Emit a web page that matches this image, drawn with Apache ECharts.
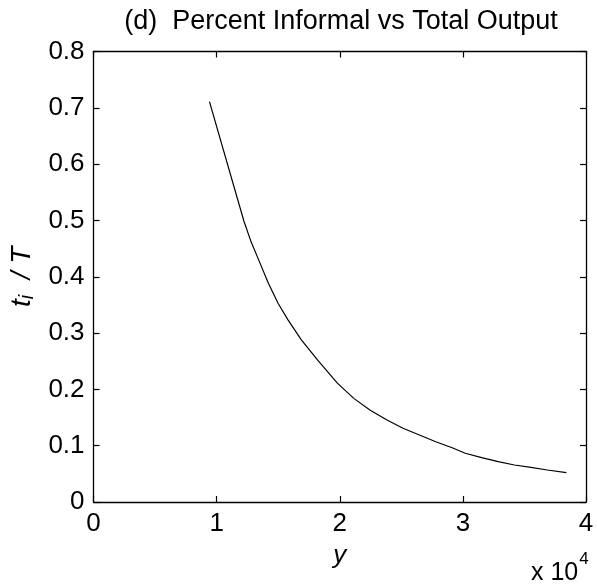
<!DOCTYPE html>
<html>
<head>
<meta charset="utf-8">
<script src="https://cdn.jsdelivr.net/npm/echarts@6/dist/echarts.min.js"></script>
<style>html,body{margin:0;padding:0;background:#fff}#c{width:597px;height:586px}</style>
</head>
<body>
<div id="c"></div>
<script>
var outputY = [9415, 12212, 12747, 13411, 14210, 15009, 15808, 16879, 18206, 19804, 21139, 22474, 23800, 25135, 26470, 27796, 29131, 30194, 31528, 32863, 34190, 35525, 36859, 38402];
var informalShare = [0.711, 0.499, 0.465, 0.430, 0.388, 0.352, 0.323, 0.288, 0.252, 0.211, 0.184, 0.163, 0.146, 0.131, 0.119, 0.107, 0.0964, 0.0865, 0.0787, 0.0716, 0.0657, 0.0616, 0.0568, 0.052];
var xTickLabels = ['0', '1', '2', '3', '4'];
var yTickLabels = ['0', '0.1', '0.2', '0.3', '0.4', '0.5', '0.6', '0.7', '0.8'];

var FONT = '"Liberation Sans", Arial, sans-serif';
var data = outputY.map(function (v, i) { return [v, informalShare[i]]; });
var chart = echarts.init(document.getElementById('c'), null, {renderer: 'canvas'});
var axisLine = {show: true, onZero: false, lineStyle: {color: '#000', width: 1.3}};
var tick = {show: true, inside: true, length: 6, lineStyle: {color: '#000', width: 1.2}};
chart.setOption({
  animation: false,
  backgroundColor: '#fff',
  title: {
    text: '(d)  Percent Informal vs Total Output',
    left: 336, top: 3, textAlign: 'center',
    textStyle: {fontFamily: FONT, fontSize: 27, fontWeight: 'normal', color: '#000'}
  },
  grid: {left: 85.5, right: 11, top: 51.5, bottom: 84, containLabel: false},
  xAxis: [{
    type: 'value', min: 0, max: 40000, interval: 10000, position: 'bottom',
    axisLine: axisLine, axisTick: tick, splitLine: {show: false},
    axisLabel: {margin: 9, fontFamily: FONT, fontSize: 26, color: '#000',
      formatter: function (v) { return xTickLabels[Math.round(v / 10000)]; }},
    name: 'y', nameLocation: 'middle', nameGap: 41,
    nameTextStyle: {fontFamily: FONT, fontSize: 26, fontStyle: 'italic', color: '#000'}
  }, {
    type: 'value', min: 0, max: 40000, interval: 10000, position: 'top',
    axisLine: axisLine, axisTick: tick, axisLabel: {show: false}, splitLine: {show: false}
  }],
  yAxis: [{
    type: 'value', min: 0, max: 0.8, interval: 0.1, position: 'left',
    axisLine: axisLine, axisTick: tick, splitLine: {show: false},
    axisLabel: {margin: 9, fontFamily: FONT, fontSize: 26, color: '#000',
      formatter: function (v) { return yTickLabels[Math.round(v * 10)]; }},
    name: '{it|t}{sub|i}{it|  / T}', nameLocation: 'middle', nameGap: 30, nameRotate: 90,
    nameTextStyle: {
      color: '#000',
      rich: {
        it: {fontFamily: FONT, fontSize: 28, fontStyle: 'italic', color: '#000'},
        sub: {fontFamily: FONT, fontSize: 20, fontStyle: 'italic', color: '#000', verticalAlign: 'bottom', padding: [11, 0, 0, 0]}
      }
    }
  }, {
    type: 'value', min: 0, max: 0.8, interval: 0.1, position: 'right',
    axisLine: axisLine, axisTick: tick, axisLabel: {show: false}, splitLine: {show: false}
  }],
  graphic: [{
    type: 'text', left: 531, top: 551,
    style: {
      text: '{a|x 10}{b|4}',
      rich: {
        a: {fontFamily: FONT, fontSize: 25, fill: '#000', padding: [10, 0, 0, 0]},
        b: {fontFamily: FONT, fontSize: 17, fill: '#000', verticalAlign: 'top', padding: [0, 0, 10, 1]}
      }
    }
  }],
  series: [{
    type: 'line', xAxisIndex: 0, yAxisIndex: 0, data: data,
    showSymbol: false, smooth: false,
    lineStyle: {color: '#000', width: 1.2}
  }]
});
</script>
</body>
</html>
